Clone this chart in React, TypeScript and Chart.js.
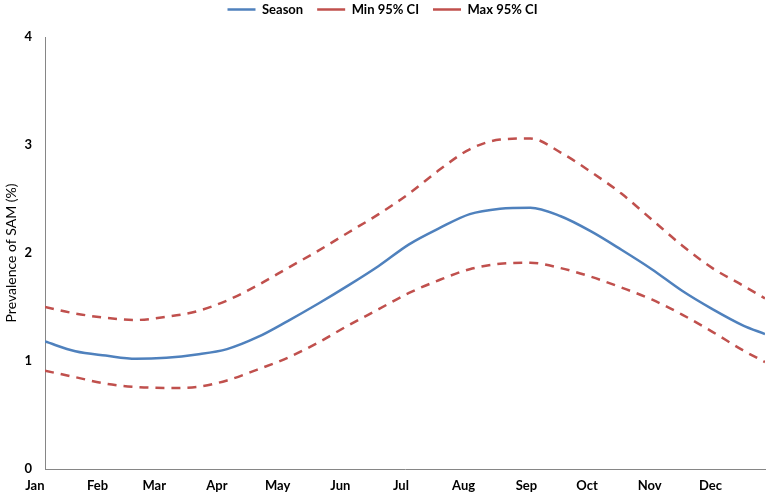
import React, { useEffect, useRef } from "react";
import { Chart, registerables } from "chart.js";

Chart.register(...registerables);

// Day of year (x) for each sampled point
const days = [5, 20, 35, 50, 65, 80, 95, 110, 125, 140, 155, 170, 185, 200, 215, 230, 245, 260, 275, 290, 305, 320, 335, 350, 361];

// Prevalence of SAM (%)
const season = [1.18, 1.09, 1.05, 1.02, 1.03, 1.06, 1.11, 1.22, 1.37, 1.53, 1.7, 1.88, 2.08, 2.23, 2.36, 2.41, 2.42, 2.34, 2.2, 2.03, 1.85, 1.65, 1.48, 1.33, 1.25];
const minCI = [0.91, 0.85, 0.79, 0.76, 0.75, 0.76, 0.82, 0.92, 1.03, 1.17, 1.33, 1.48, 1.63, 1.75, 1.85, 1.9, 1.91, 1.86, 1.78, 1.68, 1.57, 1.43, 1.27, 1.1, 0.99];
const maxCI = [1.5, 1.44, 1.4, 1.38, 1.41, 1.46, 1.56, 1.7, 1.86, 2.02, 2.19, 2.36, 2.55, 2.77, 2.96, 3.05, 3.06, 2.93, 2.75, 2.55, 2.31, 2.07, 1.86, 1.7, 1.58];

// Month tick positions (day of year) and labels
const monthStarts = [0, 31, 59, 90, 120, 151, 181, 212, 243, 273, 304, 334];
const monthLabels = ["Jan", "Feb", "Mar", "Apr", "May", "Jun", "Jul", "Aug", "Sep", "Oct", "Nov", "Dec"];

const yTicks = [0, 1, 2, 3, 4];

const FONT = "Lato, 'Open Sans', sans-serif";

export default function App() {
  const ref = useRef<HTMLCanvasElement | null>(null);

  useEffect(() => {
    if (!ref.current) return;
    const pts = (vals: number[]) => days.map((d, i) => ({ x: d, y: vals[i] }));
    const common = {
      borderWidth: 2.5,
      pointRadius: 0,
      cubicInterpolationMode: "monotone",
      fill: false,
    };
    const chart = new Chart(ref.current, {
      type: "line",
      data: {
        datasets: [
          {
            label: "Season",
            data: pts(season),
            borderColor: "#4F81BD",
            backgroundColor: "#4F81BD",
            ...common,
          },
          {
            label: "Min 95% CI",
            data: pts(minCI),
            borderColor: "#C0504D",
            backgroundColor: "#C0504D",
            borderDash: [9, 7],
            ...common,
          },
          {
            label: "Max 95% CI",
            data: pts(maxCI),
            borderColor: "#C0504D",
            backgroundColor: "#C0504D",
            borderDash: [9, 7],
            ...common,
          },
        ],
      },
      options: {
        animation: false,
        responsive: true,
        maintainAspectRatio: false,
        layout: { padding: { top: -11, right: 3, left: 0, bottom: 0 } },
        plugins: {
          legend: {
            position: "top",
            labels: {
              usePointStyle: true,
              pointStyle: "line",
              pointStyleWidth: 28,
              padding: 14,
              color: "#000",
              font: { family: FONT, size: 13, weight: "bold" },
            },
          },
          title: {
            display: true,
            text: " ",
            weight: 900,
            font: { size: 1, lineHeight: 1 },
            padding: { top: 0, bottom: 10 },
          } as any,
          tooltip: { enabled: false },
        },
        scales: {
          x: {
            type: "linear",
            min: 5,
            max: 361,
            grid: { display: false, drawTicks: false },
            border: { display: true, color: "#868686", width: 1 },
            ticks: {
              autoSkip: false,
              maxRotation: 0,
              padding: 9,
              color: "#000",
              font: { family: FONT, size: 13, weight: "bold" },
              callback: (_v: any, i: number) => monthLabels[i] ?? "",
            },
            afterBuildTicks: (s: any) => {
              s.ticks = monthStarts.map((v) => ({ value: v }));
            },
            afterFit: (s: any) => {
              s.height = 31;
            },
          },
          y: {
            min: 0,
            max: 4,
            grid: { display: false, drawTicks: false },
            border: { display: true, color: "#868686", width: 1 },
            ticks: {
              padding: 13,
              color: "#000",
              font: { family: FONT, size: 13, weight: "bold" },
            },
            afterBuildTicks: (s: any) => {
              s.ticks = yTicks.map((v) => ({ value: v }));
            },
            title: {
              display: true,
              text: "Prevalence of SAM (%)",
              color: "#000",
              font: { family: FONT, size: 14 },
              padding: { top: 3, bottom: 3 },
            },
            afterFit: (s: any) => {
              s.width = 45;
            },
          },
        },
      },
    } as any);
    return () => chart.destroy();
  }, []);

  return (
    <div style={{ position: "fixed", left: 0, top: 0, width: 768, height: 500, background: "#fff" }}>
      <canvas ref={ref} />
    </div>
  );
}
